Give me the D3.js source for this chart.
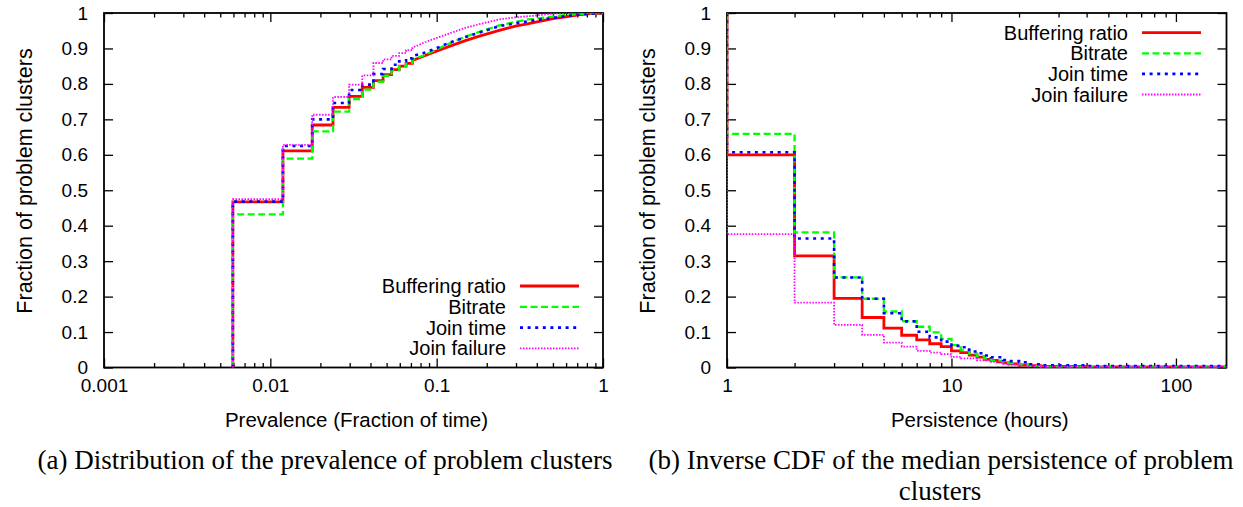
<!DOCTYPE html>
<meta charset="utf-8">
<style>
body { margin: 0; background: #fff; }
svg text { font-family: "Liberation Sans", Arial, sans-serif; fill: #000; }
.tick text { font-size: 19px; }
.axis-title { font-size: 20.5px; }
.legend text { font-size: 20px; }
.caption { font-family: "Liberation Serif", "Times New Roman", serif !important; font-size: 27px; }
</style>
<body>
<script src="https://d3js.org/d3.v7.min.js"></script>
<script>

const seriesNames = ["Buffering ratio", "Bitrate", "Join time", "Join failure"];
const seriesColors = ["#ff0000", "#00ff00", "#0000ff", "#ff00ff"];

// (a) prevalence, in hours out of a 168 hour week
const weekHours = 168;
const prevHours = [1, 2, 3, 4, 5, 6, 7, 8, 9, 10, 11, 12, 14, 16, 20, 25, 30, 40, 50, 60, 84, 100, 120, 140, 168];
const prevBuffering = [.467, .611, .684, .734, .765, .790, .809, .826, .840, .850, .858, .866, .878, .889, .906, .922, .934, .951, .963, .970, .984, .989, .995, .998, 1];
const prevBitrate = [.432, .589, .666, .722, .757, .784, .806, .823, .838, .850, .860, .868, .880, .893, .914, .933, .946, .965, .975, .982, .990, .994, .997, .999, 1];
const prevJoinTime = [.468, .625, .700, .746, .783, .798, .828, .842, .854, .864, .872, .879, .887, .897, .916, .932, .944, .963, .971, .977, .986, .991, .995, .998, 1];
const prevJoinFailure = [.475, .628, .713, .763, .798, .824, .859, .869, .879, .887, .895, .902, .916, .926, .942, .958, .968, .982, .988, .991, .998, 1, 1, 1, 1];
const prevStepUntil = 12; // visible stairs up to here, smooth after

// (b) persistence in hours, inverse CDF
const persHours = [1, 2, 3, 4, 5, 6, 7, 8, 9, 10, 11, 12, 13, 14, 15, 16, 17, 18, 20, 22, 25, 40, 168];
const persBuffering = [.600, .315, .195, .141, .111, .091, .078, .067, .059, .047, .042, .035, .029, .023, .020, .016, .013, .010, .007, .005, .003, .002, .002];
const persBitrate = [.659, .381, .254, .194, .158, .131, .115, .099, .081, .063, .049, .039, .032, .025, .019, .019, .013, .012, .008, .004, .002, .001, .001];
const persJoinTime = [.607, .364, .254, .194, .153, .130, .101, .085, .073, .061, .057, .045, .040, .034, .029, .029, .021, .018, .015, .009, .006, .004, .003];
const persJoinFailure = [.376, .183, .120, .092, .070, .059, .047, .042, .038, .030, .026, .026, .020, .020, .016, .016, .010, .008, .006, .004, .003, .002, .002];

const yTicks = [0, 0.1, 0.2, 0.3, 0.4, 0.5, 0.6, 0.7, 0.8, 0.9, 1];
const prevTicks = [0.001, 0.01, 0.1, 1];
const persTicks = [1, 10, 100];

const styles = [
  {w: 2.8, dash: null},
  {w: 2.3, dash: "7,3.5"},
  {w: 2.6, dash: "3,4.6"},
  {w: 1.8, dash: "1.5,1.5"}
];

const svg = d3.select("body").append("svg")
    .attr("width", 1243)
    .attr("height", 507)
    .style("background", "#fff");

function drawPanel(id, left, right, xDomain, xTicks, xTitle, legendPos) {
  const top = 13, bottom = 367.5;
  const x = d3.scaleLog().domain(xDomain).range([left, right]);
  const y = d3.scaleLinear().domain([0, 1]).range([bottom, top]);
  const g = svg.append("g");

  g.append("clipPath").attr("id", "clip" + id)
    .append("rect").attr("x", left).attr("y", top)
    .attr("width", right - left).attr("height", bottom - top);

  const minors = x.ticks().filter(v => xTicks.indexOf(v) < 0);

  // bottom axis
  g.append("g").attr("transform", "translate(0," + bottom + ")")
    .call(d3.axisBottom(x).tickValues(xTicks).tickSize(-9).tickPadding(11).tickFormat(d => String(d)));
  g.append("g").attr("transform", "translate(0," + bottom + ")")
    .call(d3.axisBottom(x).tickValues(minors).tickSize(-4.5).tickFormat(""));
  // top mirror
  g.append("g").attr("transform", "translate(0," + top + ")")
    .call(d3.axisTop(x).tickValues(xTicks).tickSize(-9).tickFormat(""));
  g.append("g").attr("transform", "translate(0," + top + ")")
    .call(d3.axisTop(x).tickValues(minors).tickSize(-4.5).tickFormat(""));
  // y axes
  g.append("g").attr("transform", "translate(" + left + ",0)")
    .call(d3.axisLeft(y).tickValues(yTicks).tickSize(-9).tickPadding(16).tickFormat(d => String(d)));
  g.append("g").attr("transform", "translate(" + right + ",0)")
    .call(d3.axisRight(y).tickValues(yTicks).tickSize(-9).tickFormat(""));

  g.selectAll(".domain").remove();
  g.selectAll(".tick line").attr("stroke", "#000").attr("stroke-width", 1.3);
  g.selectAll(".tick text").attr("fill", "#000").style("font-family", "Liberation Sans, Arial, sans-serif");

  g.append("rect")
    .attr("x", left).attr("y", top)
    .attr("width", right - left).attr("height", bottom - top)
    .attr("fill", "none").attr("stroke", "#000").attr("stroke-width", 1.8);

  g.append("text").attr("class", "axis-title")
    .attr("x", (left + right) / 2 + 3).attr("y", 427)
    .attr("text-anchor", "middle")
    .text(xTitle);

  g.append("text").attr("class", "axis-title")
    .attr("transform", "translate(" + (left - 72) + "," + 181 + ") rotate(-90)")
    .attr("text-anchor", "middle")
    .style("font-size", "21.5px")
    .text("Fraction of problem clusters");

  // legend
  const lg = g.append("g").attr("class", "legend");
  seriesNames.forEach((name, i) => {
    const ly = legendPos.y + i * legendPos.dy;
    lg.append("text")
      .attr("x", legendPos.textX).attr("y", ly).attr("dy", "0.35em")
      .attr("text-anchor", "end")
      .text(name);
    lg.append("line")
      .attr("x1", legendPos.textX + 14).attr("x2", legendPos.textX + 73)
      .attr("y1", ly).attr("y2", ly)
      .attr("stroke", seriesColors[i])
      .attr("stroke-width", styles[i].w)
      .attr("stroke-dasharray", styles[i].dash);
  });

  return {g: g, x: x, y: y, clip: "url(#clip" + id + ")"};
}

// ---- panel (a)
const pa = drawPanel("a", 104, 603, [0.001, 1], prevTicks, "Prevalence (Fraction of time)",
  {textX: 506, y: 286, dy: 20.8});

[prevBuffering, prevBitrate, prevJoinTime, prevJoinFailure].forEach((vals, i) => {
  const pts = prevHours.map((h, j) => ({x: h / weekHours, y: vals[j]}));
  const head = [{x: pts[0].x, y: 0}].concat(pts.filter((p, j) => prevHours[j] <= prevStepUntil));
  const tail = pts.filter((p, j) => prevHours[j] >= prevStepUntil);
  const stepLine = d3.line().x(d => pa.x(d.x)).y(d => pa.y(d.y)).curve(d3.curveStepAfter);
  const smoothLine = d3.line().x(d => pa.x(d.x)).y(d => pa.y(d.y));
  pa.g.append("path")
    .attr("d", stepLine(head) + smoothLine(tail).replace(/^M/, "L"))
    .attr("clip-path", pa.clip)
    .attr("fill", "none")
    .attr("stroke", seriesColors[i])
    .attr("stroke-width", styles[i].w)
    .attr("stroke-dasharray", styles[i].dash);
});

// ---- panel (b)
const pb = drawPanel("b", 727, 1226.5, [1, 168], persTicks, "Persistence (hours)",
  {textX: 1128, y: 32.7, dy: 20.6});

[persBuffering, persBitrate, persJoinTime, persJoinFailure].forEach((vals, i) => {
  const pts = [{x: persHours[0], y: 1}].concat(persHours.map((h, j) => ({x: h, y: vals[j]})));
  const line = d3.line().x(d => pb.x(d.x)).y(d => pb.y(d.y)).curve(d3.curveStepAfter);
  pb.g.append("path")
    .attr("d", line(pts))
    .attr("clip-path", pb.clip)
    .attr("fill", "none")
    .attr("stroke", seriesColors[i])
    .attr("stroke-width", styles[i].w)
    .attr("stroke-dasharray", styles[i].dash);
});

// captions
svg.append("text").attr("class", "caption")
  .attr("x", 325).attr("y", 469).attr("text-anchor", "middle")
  .text("(a) Distribution of the prevalence of problem clusters");
svg.append("text").attr("class", "caption")
  .attr("x", 941).attr("y", 469).attr("text-anchor", "middle")
  .text("(b) Inverse CDF of the median persistence of problem");
svg.append("text").attr("class", "caption")
  .attr("x", 940).attr("y", 500).attr("text-anchor", "middle")
  .text("clusters");

</script>
</body>
